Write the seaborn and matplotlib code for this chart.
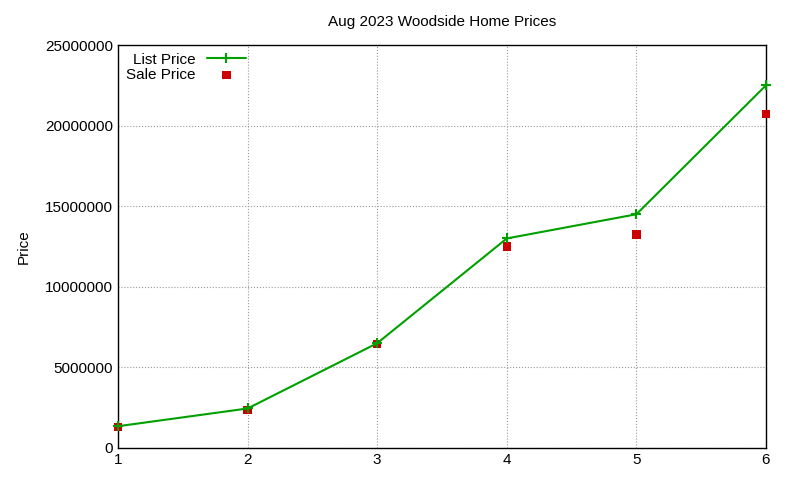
import matplotlib
matplotlib.use("Agg")
import matplotlib.pyplot as plt
import seaborn as sns
import pandas as pd

houses = [1, 2, 3, 4, 5, 6]
list_price = [1350000, 2450000, 6500000, 13000000, 14500000, 22500000]
sale_price = [1300000, 2350000, 6450000, 12500000, 13250000, 20700000]

df = pd.DataFrame({"house": houses, "list": list_price, "sale": sale_price})

sns.set_style("white")
plt.rcParams['font.family'] = ['Liberation Sans', 'DejaVu Sans']
plt.rcParams['text.color'] = 'black'
plt.rcParams['axes.labelcolor'] = 'black'

fig = plt.figure(figsize=(8, 4.8), dpi=100)
ax = fig.add_axes([0.1475, 0.0667, 0.81, 0.8395])

sns.lineplot(data=df, x="house", y="list", ax=ax, color="#00a000", marker="+",
             markersize=7, markeredgewidth=1.5, markeredgecolor="#00a000",
             linewidth=1.5, label="List Price", clip_on=False, zorder=4)
sns.scatterplot(data=df, x="house", y="sale", ax=ax, color="#cc0000", marker="s",
                s=36, edgecolor="none", label="Sale Price", zorder=3, clip_on=False)

ax.set_xlim(1, 6)
ax.set_ylim(0, 25000000)
ax.set_yticks(range(0, 25000001, 5000000))
ax.set_yticklabels([str(v) for v in range(0, 25000001, 5000000)])
ax.grid(True, color="#999999", linestyle=":", linewidth=0.8)
for s in ax.spines.values():
    s.set_color("black")
    s.set_linewidth(1)
ax.tick_params(direction="in", length=5, labelsize=11, colors="black")
ax.set_xlabel("")
ax.set_ylabel("Price", fontsize=11, labelpad=10)
ax.set_title("Aug 2023 Woodside Home Prices", fontsize=11, pad=14)

ax.legend(loc="upper left", markerfirst=False, frameon=False, fontsize=11,
          borderaxespad=0.1, handlelength=2.5, labelspacing=0.1,
          bbox_to_anchor=(0.0, 1.0))

fig.savefig("out.png", dpi=100)
